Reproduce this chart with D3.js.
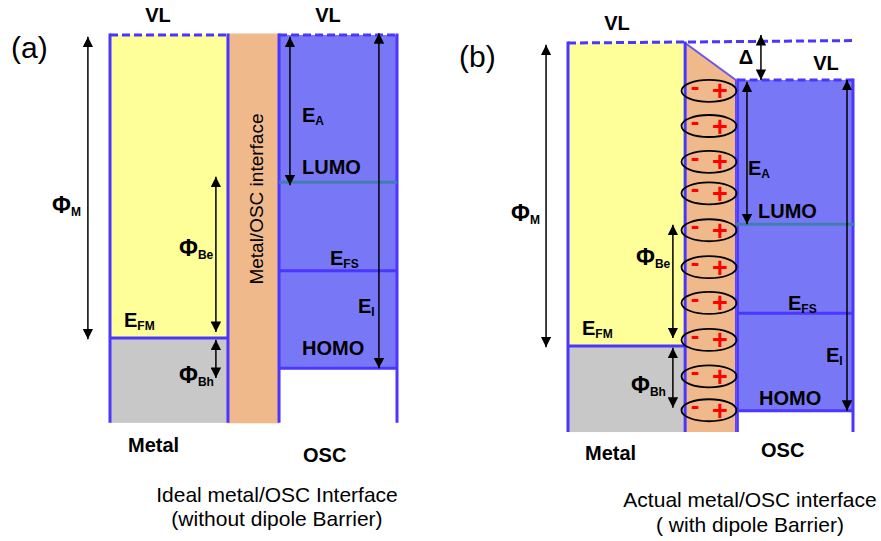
<!DOCTYPE html>
<html>
<head>
<meta charset="utf-8">
<script src="https://cdn.jsdelivr.net/npm/d3@7"></script>
<style>
  body { margin: 0; background: #fff; }
  text { font-family: "Liberation Sans", Arial, sans-serif; fill: #000; }
  .lbl { font-weight: bold; font-size: 20px; }
  .cap { font-size: 21px; }
</style>
</head>
<body>
<svg width="881" height="541"></svg>
<script>
// energies in eV, measured down from the metal vacuum level
const levelNames = ["vlOsc", "lumo", "efs", "efm", "homo", "bottom"]
const levelsA = [0, 2.43, 3.89, 5.0, 5.5, 6.4]
const levelsB = [0.61, 2.99, 4.46, 5.0, 6.07, 6.42]

// arrows as [from, to] in eV
const arrowNames = ["phiM", "phiBe", "phiBh", "EA", "EI", "delta"]
const arrowsA = [[0.03, 5.02], [2.34, 4.9], [5.03, 5.66], [0.03, 2.48], [-0.03, 5.5]]
const arrowsB = [[0.03, 5.02], [3.0, 4.87], [5.03, 6.02], [0.64, 2.99], [0.61, 6.07], [-0.13, 0.61]]

// dipole centres inside the interface of panel (b), eV
const dipolesB = [0.79, 1.37, 1.96, 2.48, 3.09, 3.7, 4.29, 4.9, 5.5, 6.06]
const vlDriftB = -0.04

const BLUE = "#4a36ff", YELLOW = "#ffff99", GREY = "#c8c8c8",
      ORANGE = "#f0b98c", PURPLE = "#7878f6", TEAL = "#3f7fae"

const svg = d3.select("svg")

svg.append("defs").append("marker")
  .attr("id", "head")
  .attr("viewBox", "0 0 10 10")
  .attr("refX", 10).attr("refY", 5)
  .attr("markerWidth", 7).attr("markerHeight", 7)
  .attr("markerUnits", "strokeWidth")
  .attr("orient", "auto-start-reverse")
  .append("path").attr("d", "M0,0L10,5L0,10Z").attr("fill", "#000")

function makePanel(left, right, top, levels) {
  const x = d3.scaleLinear().domain([0, 1]).range([left, right])
  const y = d3.scaleLinear().domain([0, 5]).range([top, top + 303])
  const lv = {}
  levelNames.forEach((n, i) => { lv[n] = levels[i] })
  return { x, y, lv, g: svg.append("g") }
}

function hline(g, x0, x1, yy, color, w, dash) {
  return g.append("line").attr("x1", x0).attr("x2", x1).attr("y1", yy).attr("y2", yy)
    .attr("stroke", color).attr("stroke-width", w)
    .attr("stroke-dasharray", dash || null)
}
function vline(g, xx, y0, y1, color, w) {
  g.append("line").attr("x1", xx).attr("x2", xx).attr("y1", y0).attr("y2", y1)
    .attr("stroke", color).attr("stroke-width", w)
}
function arrow(p, xf, pair) {
  p.g.append("line")
    .attr("x1", p.x(xf)).attr("x2", p.x(xf))
    .attr("y1", p.y(pair[0])).attr("y2", p.y(pair[1]))
    .attr("stroke", "#000").attr("stroke-width", 1.5)
    .attr("marker-start", "url(#head)").attr("marker-end", "url(#head)")
}
function label(g, xx, yy, main, sub, anchor) {
  const t = g.append("text").attr("class", "lbl")
    .attr("x", xx).attr("y", yy).attr("text-anchor", anchor || "start")
  t.append("tspan").attr("font-size", main === "Φ" ? 23 : null).text(main)
  if (sub) t.append("tspan").attr("font-size", 12).attr("dy", 3).text(sub)
}

// ---------- panel (a) ----------
const pa = makePanel(110, 397, 35, levelsA)
{
  const { x, y, lv, g } = pa
  g.append("rect").attr("x", x(0)).attr("y", y(0)).attr("width", x(0.411) - x(0))
    .attr("height", y(lv.efm) - y(0)).attr("fill", YELLOW)
  g.append("rect").attr("x", x(0)).attr("y", y(lv.efm)).attr("width", x(0.411) - x(0))
    .attr("height", y(lv.bottom) - y(lv.efm)).attr("fill", GREY)
  g.append("rect").attr("x", x(0.589)).attr("y", y(lv.vlOsc)).attr("width", x(1) - x(0.589))
    .attr("height", y(lv.homo) - y(lv.vlOsc)).attr("fill", PURPLE)

  hline(g, x(0), x(0.411), y(0), BLUE, 3, "8,4")
  hline(g, x(0.589), x(1), y(lv.vlOsc), BLUE, 3, "8,4")
  g.append("rect").attr("x", x(0.411)).attr("y", y(0) - 1.5).attr("width", x(0.589) - x(0.411))
    .attr("height", y(lv.bottom) - y(0) + 2).attr("fill", ORANGE)

  vline(g, x(0), y(0) - 1.5, y(lv.bottom), BLUE, 3)
  vline(g, x(0.411), y(0) - 1.5, y(lv.bottom), BLUE, 3)
  vline(g, x(0.589), y(lv.vlOsc) - 1.5, y(lv.bottom), BLUE, 3)
  vline(g, x(1), y(lv.vlOsc) - 1.5, y(lv.bottom), BLUE, 3)
  hline(g, x(0), x(0.411), y(lv.efm), BLUE, 3)
  hline(g, x(0.589), x(1), y(lv.efs), BLUE, 3)
  hline(g, x(0.589), x(1), y(lv.homo), BLUE, 3)
  hline(g, x(0.589), x(1), y(lv.lumo), TEAL, 3)

  const xs = [-0.077, 0.369, 0.369, 0.627, 0.937]
  arrowsA.forEach((a, i) => arrow(pa, xs[i], a))

  g.append("text").attr("x", 11).attr("y", 58).attr("font-size", 30).text("(a)")
  label(g, 158, 22, "VL", null, "middle")
  label(g, 328, 22, "VL", null, "middle")
  label(g, 52, 213, "Φ", "M")
  label(g, 179, 256, "Φ", "Be")
  label(g, 124, 327, "E", "FM")
  label(g, 179, 383, "Φ", "Bh")
  label(g, 302, 122, "E", "A")
  label(g, 302, 174, "LUMO")
  label(g, 330, 265, "E", "FS")
  label(g, 358, 313, "E", "I")
  label(g, 302, 355, "HOMO")
  label(g, 128, 452, "Metal")
  label(g, 303, 462, "OSC")
  g.append("text").attr("font-size", 19).attr("text-anchor", "middle")
    .attr("transform", "translate(263," + (y(0) + y(lv.bottom)) / 2.3 + ") rotate(-90)")
    .text("Metal/OSC interface")
  g.append("text").attr("class", "cap").attr("x", 277).attr("y", 502)
    .attr("text-anchor", "middle").text("Ideal metal/OSC Interface")
  g.append("text").attr("class", "cap").attr("x", 277).attr("y", 526)
    .attr("text-anchor", "middle").text("(without dipole Barrier)")
}

// ---------- panel (b) ----------
const pb = makePanel(568, 853, 43, levelsB)
{
  const { x, y, lv, g } = pb
  g.append("rect").attr("x", x(0)).attr("y", y(0)).attr("width", x(0.411) - x(0))
    .attr("height", y(lv.efm) - y(0)).attr("fill", YELLOW)
  g.append("rect").attr("x", x(0)).attr("y", y(lv.efm)).attr("width", x(0.411) - x(0))
    .attr("height", y(lv.bottom) - y(lv.efm)).attr("fill", GREY)
  g.append("rect").attr("x", x(0.595)).attr("y", y(lv.vlOsc)).attr("width", x(1) - x(0.595))
    .attr("height", y(lv.homo) - y(lv.vlOsc)).attr("fill", PURPLE)

  hline(g, x(0), x(1), y(0), BLUE, 3, "8,4").attr("y2", y(vlDriftB))
  hline(g, x(0.595), x(1), y(lv.vlOsc), BLUE, 3, "8,4")

  const poly = [[x(0.411), y(0)], [x(0.589), y(lv.vlOsc)], [x(0.589), y(lv.bottom)], [x(0.411), y(lv.bottom)]]
  g.append("path").attr("d", d3.line()(poly) + "Z").attr("fill", ORANGE)
  g.append("line").attr("x1", x(0.411)).attr("y1", y(0)).attr("x2", x(0.589)).attr("y2", y(lv.vlOsc))
    .attr("stroke", "#6a56e8").attr("stroke-width", 2)

  vline(g, x(0), y(0) - 1.5, y(lv.bottom), BLUE, 3)
  vline(g, x(0.411), y(0) - 1.5, y(lv.bottom), BLUE, 3)
  vline(g, x(0.589), y(lv.vlOsc), y(lv.bottom), BLUE, 1.5)
  vline(g, x(0.595), y(lv.vlOsc) - 1.5, y(lv.bottom), BLUE, 2.5)
  vline(g, x(1), y(lv.vlOsc) - 1.5, y(lv.bottom), BLUE, 3)
  hline(g, x(0), x(0.411), y(lv.efm), BLUE, 3)
  hline(g, x(0.595), x(1), y(lv.efs), BLUE, 3)
  hline(g, x(0.595), x(1), y(lv.homo), BLUE, 3)
  hline(g, x(0.589), x(1.005), y(lv.lumo), TEAL, 3)

  const cx = (x(0.411) + x(0.589)) / 2 - 1.5
  const dip = g.selectAll("g.dip").data(dipolesB).enter().append("g").attr("class", "dip")
    .attr("transform", d => "translate(" + cx + "," + y(d) + ")")
  dip.append("ellipse").attr("rx", 27.5).attr("ry", 11)
    .attr("fill", "none").attr("stroke", "#000").attr("stroke-width", 1.8)
  dip.append("text").attr("x", -14).attr("y", 4).attr("text-anchor", "middle")
    .attr("font-size", 26).attr("font-weight", "bold").style("fill", "#f00").text("-")
  dip.append("text").attr("x", 11).attr("y", 9.5).attr("text-anchor", "middle")
    .attr("font-size", 27).attr("font-weight", "bold").style("fill", "#f00").text("+")

  const xs = [-0.077, 0.368, 0.368, 0.628, 0.979, 0.677]
  arrowsB.forEach((a, i) => arrow(pb, xs[i], a))

  g.append("text").attr("x", 459).attr("y", 67).attr("font-size", 30).text("(b)")
  label(g, 617, 30, "VL", null, "middle")
  label(g, 826, 70, "VL", null, "middle")
  label(g, 746, 64, "Δ", null, "middle")
  label(g, 511, 221, "Φ", "M")
  label(g, 748, 175, "E", "A")
  label(g, 758, 218, "LUMO")
  label(g, 636, 265, "Φ", "Be")
  label(g, 788, 310, "E", "FS")
  label(g, 582, 335, "E", "FM")
  label(g, 826, 362, "E", "I")
  label(g, 631, 393, "Φ", "Bh")
  label(g, 759, 405, "HOMO")
  label(g, 585, 460, "Metal")
  label(g, 761, 457, "OSC")
  g.append("text").attr("class", "cap").attr("x", 750).attr("y", 507)
    .attr("text-anchor", "middle").text("Actual metal/OSC interface")
  g.append("text").attr("class", "cap").attr("x", 750).attr("y", 532)
    .attr("text-anchor", "middle").text("( with dipole Barrier)")
}
</script>
</body>
</html>
